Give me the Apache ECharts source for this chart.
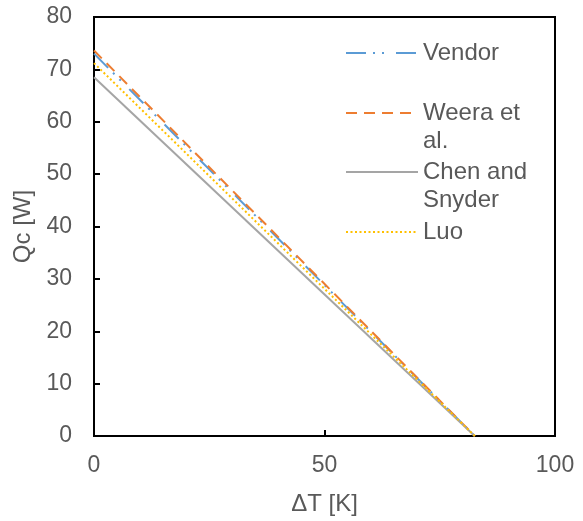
<!DOCTYPE html>
<html>
<head>
<meta charset="utf-8">
<script src="https://cdn.jsdelivr.net/npm/echarts@6/dist/echarts.min.js"></script>
<style>html,body{margin:0;padding:0;background:#fff}#c{width:583px;height:521px}</style>
</head>
<body>
<div id="c"></div>
<script>
var seriesNames = ['Vendor', 'Weera et al.', 'Chen and Snyder', 'Luo'];
var legendLabels = ['Vendor', '\nWeera et\nal.', '\nChen and\nSnyder', 'Luo'];
var deltaT = [0, 82.6];
var vendor = [73.0, 0];
var weera = [73.6, 0];
var chen = [68.5, 0];
var luo = [71.2, 0];

function pts(vals) { return deltaT.map(function (x, i) { return [x, vals[i]]; }); }

var colors = ['#5B9BD5', '#ED7D31', '#A5A5A5', '#FFC000'];
var dashes = [[20, 7, 2, 7, 2, 12], [11, 7], 'solid', [2, 2.5]];
var values = [vendor, weera, chen, luo];
var legendTops = [39, 71, 130, 218];

var chart = echarts.init(document.getElementById('c'));
var font = 'Liberation Sans, Arial, sans-serif';
chart.setOption({
  animation: false,
  backgroundColor: '#fff',
  grid: { left: 94, right: 28, top: 17, bottom: 85, show: true, borderColor: '#000', borderWidth: 2, backgroundColor: 'transparent' },
  xAxis: {
    type: 'value', min: 0, max: 100, interval: 50,
    name: 'ΔT [K]', nameLocation: 'middle', nameGap: 56,
    nameTextStyle: { color: '#595959', fontSize: 24, fontFamily: font },
    axisLine: { show: true, lineStyle: { color: '#000', width: 2 } },
    axisTick: { show: true, inside: true, length: 6, lineStyle: { color: '#000', width: 2 } },
    axisLabel: { color: '#595959', fontSize: 23, fontFamily: font, margin: 18 },
    splitLine: { show: false }
  },
  yAxis: {
    type: 'value', min: 0, max: 80, interval: 10,
    name: 'Qc [W]', nameLocation: 'middle', nameGap: 54,
    nameTextStyle: { color: '#595959', fontSize: 24, fontFamily: font },
    axisLine: { show: true, lineStyle: { color: '#000', width: 2 } },
    axisTick: { show: true, inside: true, length: 6, lineStyle: { color: '#000', width: 2 } },
    axisLabel: { color: '#595959', fontSize: 23, fontFamily: font, margin: 22 },
    splitLine: { show: false }
  },
  legend: seriesNames.map(function (n, i) {
    return {
      data: [n], left: 345, top: legendTops[i], padding: 0,
      itemWidth: 72, itemHeight: 14,
      itemStyle: { opacity: 0 },
      formatter: function () { return legendLabels[i]; },
      textStyle: { color: '#595959', fontSize: 24, fontFamily: font, lineHeight: 28 },
      selectedMode: false
    };
  }),
  series: seriesNames.map(function (n, i) {
    return {
      name: n, type: 'line', data: pts(values[i]), symbol: 'none',
      lineStyle: { color: colors[i], width: 2, type: dashes[i] },
      itemStyle: { color: colors[i] }
    };
  })
});
</script>
</body>
</html>
